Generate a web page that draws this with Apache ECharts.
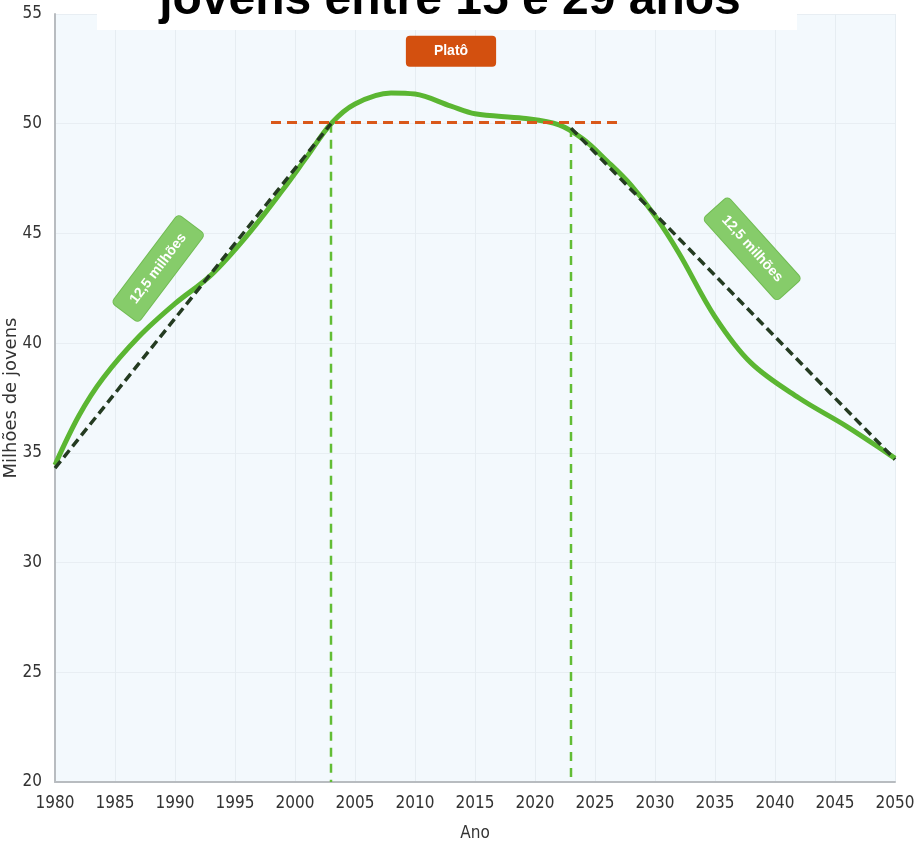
<!DOCTYPE html>
<html>
<head>
<meta charset="utf-8">
<script src="https://cdn.jsdelivr.net/npm/echarts@6/dist/echarts.min.js"></script>
<style>
html,body{margin:0;padding:0;background:#fff;}
#chart{width:914px;height:846px;}
</style>
</head>
<body>
<div id="chart"></div>
<script>
// ---- data ----
const titleText = "jovens entre 15 e 29 anos";
const xAxisName = "Ano";
const yAxisName = "Milhões de jovens";
const years = [1980, 1982, 1984, 1987, 1990, 1993, 1996, 1999, 2001, 2003, 2005, 2008, 2010, 2013, 2015, 2019, 2022, 2024, 2026, 2028, 2030, 2032, 2035, 2038, 2042, 2046, 2050];
const youth = [34.45, 36.7, 38.4, 40.3, 41.8, 43.1, 44.9, 47.0, 48.5, 50.0, 50.9, 51.4, 51.35, 50.8, 50.45, 50.25, 49.95, 49.3, 48.3, 47.2, 45.8, 44.1, 41.2, 39.1, 37.5, 36.2, 34.75];
const trendUpYears = [1980, 2003];
const trendUpValues = [34.3, 50.0];
const trendDownYears = [2023, 2050];
const trendDownValues = [49.8, 34.7];
const plateauYears = [1998, 2027.2];
const plateauValue = 50.05;
const plateauLimitYears = [2003, 2023];
const plateauLimitTops = [50.0, 49.8];
const axisFloor = 20;
const plateauLabel = "Platô";
const plateauLabelAt = [2013, 53.3];
const growthLabel = "12,5 milhões";
const growthLabelAt = [1988.6, 43.4];
const declineLabel = "12,5 milhões";
const declineLabelAt = [2038.1, 44.3];

// ---- chart ----
const chart = echarts.init(document.getElementById('chart'), null, {renderer: 'canvas'});
const pairs = (xs, ys) => xs.map((x, i) => [x, ys[i]]);
const narrow = '"Liberation Sans Narrow", "Arial Narrow", "DejaVu Sans Condensed", sans-serif';

const labelBox = (color, border) => ({
  show: true, position: 'inside', color: '#fff', fontWeight: 'bold',
  fontFamily: '"Liberation Sans", Arial, sans-serif', fontSize: 14,
  backgroundColor: color, borderColor: border, borderWidth: 1, borderRadius: 4
});

const option = {
  backgroundColor: '#ffffff',
  animation: false,
  grid: {left: 55, right: 19, top: 14, bottom: 64, show: true, backgroundColor: '#f3f9fd', borderWidth: 0,
         containLabel: false, outerBoundsMode: 'none'},
  graphic: [
    {type: 'rect', shape: {x: 97, y: 0, width: 700, height: 30}, style: {fill: '#ffffff'}, z: 100},
    {type: 'text', x: 450, y: 1, z: 101,
     style: {text: titleText, font: 'bold 48px "Liberation Sans", Arial, sans-serif', fill: '#000', align: 'center', verticalAlign: 'middle'}}
  ],
  xAxis: {
    type: 'value', min: 1980, max: 2050, interval: 5,
    name: xAxisName, nameLocation: 'middle', nameGap: 43, nameMoveOverlap: false,
    nameTextStyle: {fontFamily: narrow, fontSize: 17, color: '#333'},
    axisLine: {show: true, lineStyle: {color: '#b8bcc0', width: 2}},
    axisTick: {show: false},
    axisLabel: {formatter: v => String(v), fontFamily: narrow, fontSize: 17, color: '#333', margin: 13},
    splitLine: {show: true, lineStyle: {color: '#e6edf2', width: 1}}
  },
  yAxis: {
    type: 'value', min: 20, max: 55, interval: 5,
    name: yAxisName, nameLocation: 'middle', nameGap: 35, nameMoveOverlap: false,
    nameTextStyle: {fontFamily: '"DejaVu Sans", sans-serif', fontSize: 18, color: '#333'},
    axisLine: {show: true, lineStyle: {color: '#b8bcc0', width: 2}},
    axisTick: {show: false},
    axisLabel: {fontFamily: narrow, fontSize: 17, color: '#333', margin: 13},
    splitLine: {show: true, lineStyle: {color: '#e8eef3', width: 1}}
  },
  series: [
    {type: 'line', name: 'jovens', data: pairs(years, youth), smooth: 0.35, symbol: 'none',
     lineStyle: {color: '#5bb632', width: 5}, z: 3},
    {type: 'line', data: pairs(trendUpYears, trendUpValues), symbol: 'none',
     lineStyle: {color: '#243b21', width: 3.5, type: [9, 5]}, z: 4},
    {type: 'line', data: pairs(trendDownYears, trendDownValues), symbol: 'none',
     lineStyle: {color: '#243b21', width: 3.5, type: [9, 5]}, z: 4},
    {type: 'line', data: plateauYears.map(x => [x, plateauValue]), symbol: 'none',
     lineStyle: {color: '#d9581a', width: 3, type: [10, 6]}, z: 5},
    {type: 'line', data: [[plateauLimitYears[0], plateauLimitTops[0]], [plateauLimitYears[0], axisFloor]], symbol: 'none',
     lineStyle: {color: '#62bd35', width: 2.5, type: [9, 7]}, z: 2},
    {type: 'line', data: [[plateauLimitYears[1], plateauLimitTops[1]], [plateauLimitYears[1], axisFloor]], symbol: 'none',
     lineStyle: {color: '#62bd35', width: 2.5, type: [9, 7]}, z: 2},
    {type: 'scatter', symbolSize: 0, z: 10, silent: true, itemStyle: {opacity: 1},
     data: [
       {value: plateauLabelAt, label: Object.assign(labelBox('#d3500f', '#d3500f'), {formatter: plateauLabel, fontSize: 14, padding: [8, 27, 7, 27], borderRadius: 3})},
       {value: growthLabelAt, label: Object.assign(labelBox('#86cc6a', '#70bb52'), {formatter: growthLabel, rotate: 53, padding: [10, 13, 9, 13]})},
       {value: declineLabelAt, label: Object.assign(labelBox('#86cc6a', '#70bb52'), {formatter: declineLabel, rotate: -48, padding: [10, 13, 9, 13]})}
     ]}
  ]
};
chart.setOption(option);
</script>
</body>
</html>
